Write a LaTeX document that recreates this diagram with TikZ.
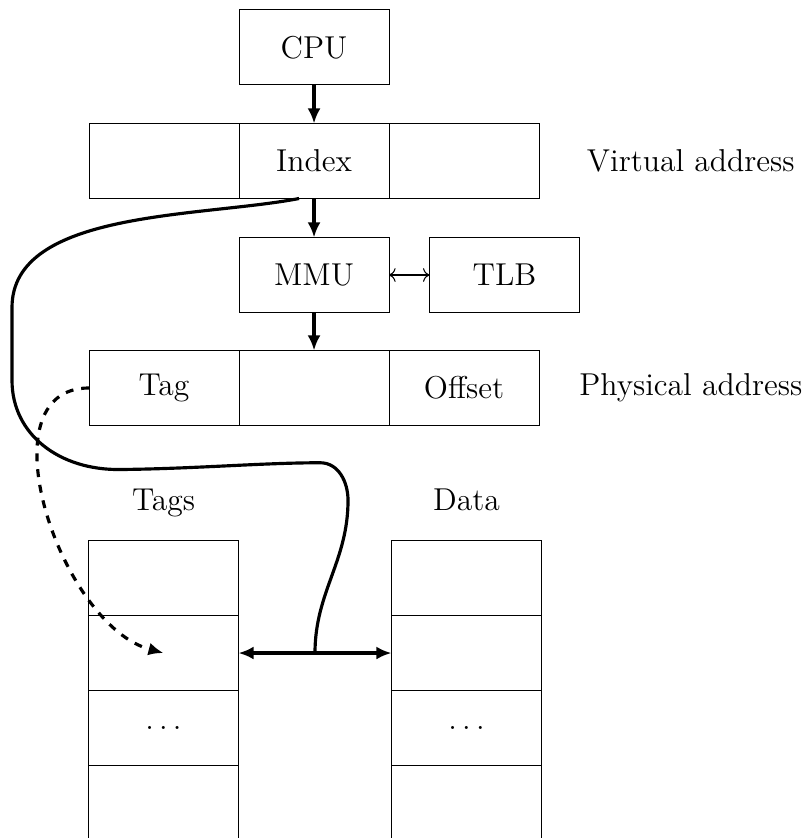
\documentclass[tikz,border=0pt]{standalone}
\usetikzlibrary{calc,arrows.meta}
\begin{document}
\begin{tikzpicture}[
  font=\large,
  cell/.style={draw, line width=0.4pt, minimum width=2cm, minimum height=1cm, inner sep=0pt, outer sep=0pt},
  bigtip/.style={-{Latex[length=5.7pt,width=4.9pt]}},
  arr/.style={very thick, bigtip},
  lbl/.style={inner sep=0pt}
]
\useasboundingbox (0,0) rectangle (10.747,-11.173);
% top chain
\node[cell] (cpu) at (4.187,-0.633) {CPU};
\node[cell] (v2) at (4.187,-2.147) {Index};
\node[cell, anchor=east] (v1) at (v2.west) {};
\node[cell, anchor=west] (v3) at (v2.east) {};
\node[lbl] (vlabel) at (9.21,-2.147) {Virtual address};
\node[cell] (mmu) at (4.187,-3.6667) {MMU};
\node[cell] (tlb) at (6.7267,-3.6667) {TLB};
\node[cell] (p2) at (4.187,-5.173) {};
\node[cell, anchor=east] (p1) at (p2.west) {Tag};
\node[cell, anchor=west] (p3) at (p2.east) {Offset};
\node[lbl] (plabel) at (9.21,-5.173) {Physical address};
% columns
\node[lbl, anchor=base] (tagslabel) at (2.18,-6.813) {Tags};
\node[lbl, anchor=base] (datalabel) at (6.22,-6.813) {Data};
\node[cell] (t1) at (2.1797,-7.7067) {};
\node[cell] (t2) at (2.1797,-8.7067) {};
\node[cell] (t3) at (2.1797,-9.7067) {$\dots$};
\node[cell] (t4) at (2.1797,-10.7067) {};
\node[cell] (d1) at (6.2197,-7.7067) {};
\node[cell] (d2) at (6.2197,-8.7067) {};
\node[cell] (d3) at (6.2197,-9.7067) {$\dots$};
\node[cell] (d4) at (6.2197,-10.7067) {};
% arrows
\draw[arr] (cpu) -- (v2);
\draw[arr] (v2) -- (mmu);
\draw[arr] (mmu) -- (p2);
\draw[<->] (mmu) -- (tlb);
\draw[very thick, {Latex[length=5.7pt,width=4.9pt]}-{Latex[length=5.7pt,width=4.9pt]}] (t2.east) -- (d2.west) coordinate[pos=0.5] (mid);
% dashed tag lookup
\draw[very thick, dashed, bigtip] (p1.west) to[out=180, in=165] (t2.center);
% index curve
\coordinate (s) at ([xshift=-0.2cm]v2.south);
\coordinate (w1) at (0.16,-4.1);
\coordinate (w2) at (0.16,-5.07);
\coordinate (w3) at (1.6,-6.26);
\coordinate (w4) at (4.27,-6.17);
\coordinate (w5) at (4.64,-6.67);
\draw[very thick] (s) .. controls (2.67,-2.9) and (0.16,-2.8) .. (w1)
  -- (w2)
  .. controls (0.16,-5.8) and (0.8,-6.27) .. (w3)
  .. controls (2.6,-6.25) and (3.5,-6.17) .. (w4)
  to[out=0, in=90] (w5)
  to[out=-90, in=90] (mid);
\end{tikzpicture}
\end{document}
